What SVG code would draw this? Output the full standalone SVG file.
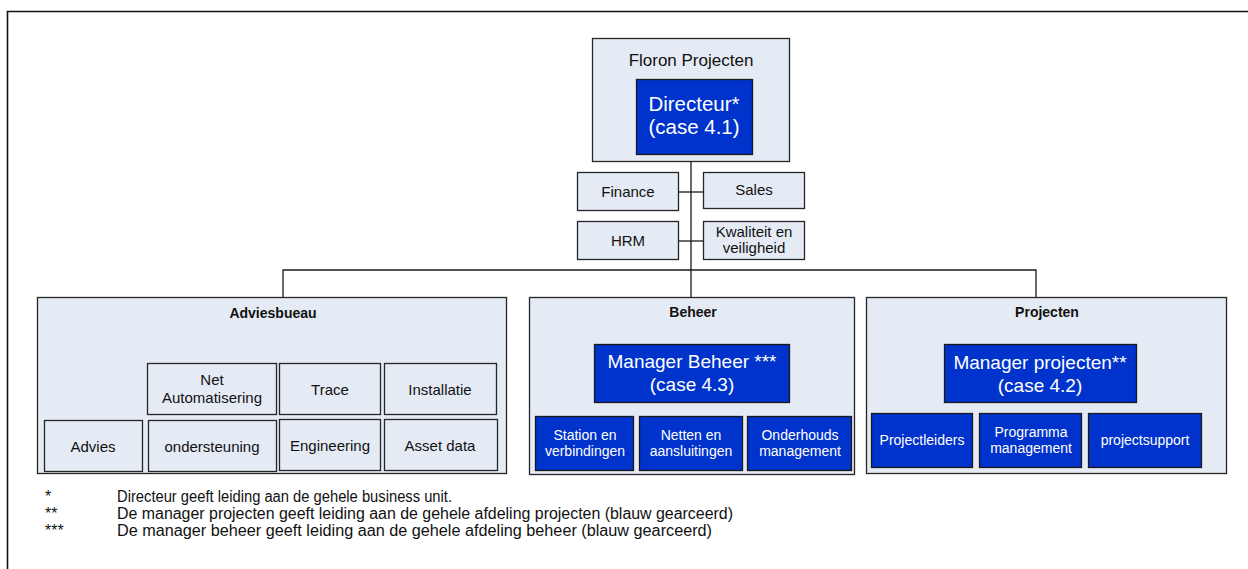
<svg xmlns="http://www.w3.org/2000/svg" width="1248" height="569" viewBox="0 0 1248 569">
<style>
text{font-family:"Liberation Sans",Arial,sans-serif;text-anchor:middle}
.lt{fill:#E5EBF5;stroke:#262626;stroke-width:1.3}
.bl{fill:#0033CC;stroke:#1a1a1a;stroke-width:1.3}
.k{fill:#111}
.w{fill:#fff}
.t15{font-size:15px}
.t14{font-size:14px}
.h{font-size:14px;font-weight:bold}
.big{font-size:19px}
.con{fill:none;stroke:#1a1a1a;stroke-width:1.3}
.fn{font-size:16px;text-anchor:start;fill:#111}
</style>
<rect width="1248" height="569" fill="#fff"/>
<path d="M7.5,569 V11.5 H1248" fill="none" stroke="#111" stroke-width="1.6"/>

<g id="connectors">
<path class="con" d="M691,161 V270"/>
<path class="con" d="M679,192 H703"/>
<path class="con" d="M679,241 H703"/>
<path class="con" d="M283,297 V270 H1036 V297"/>
<path class="con" d="M691,270 V297"/>
</g>

<g id="floron">
<rect class="lt" x="592.5" y="38.5" width="197" height="123"/>
<text class="k" x="691" y="66" style="font-size:17px">Floron Projecten</text>
</g>
<g id="directeur">
<rect class="bl" x="636.5" y="79.5" width="116" height="75"/>
<text class="w" x="694" y="111" style="font-size:20.5px">Directeur*</text>
<text class="w" x="694" y="134" style="font-size:20.5px">(case 4.1)</text>
</g>
<g id="finance">
<rect class="lt" x="577.5" y="172.5" width="101" height="38"/>
<text class="k t15" x="628" y="197">Finance</text>
</g>
<g id="sales">
<rect class="lt" x="703.5" y="172.5" width="101" height="36"/>
<text class="k t15" x="754" y="195">Sales</text>
</g>
<g id="hrm">
<rect class="lt" x="577.5" y="221.5" width="101" height="38"/>
<text class="k t15" x="628" y="246">HRM</text>
</g>
<g id="kwaliteit">
<rect class="lt" x="703.5" y="221.5" width="101" height="38"/>
<text class="k t15" x="754" y="237">Kwaliteit en</text>
<text class="k t15" x="754" y="253">veiligheid</text>
</g>

<g id="adviesbueau">
<rect class="lt" x="37.5" y="297.5" width="469" height="176"/>
<text class="k h" x="273" y="318">Adviesbueau</text>
</g>
<g id="netautomatisering">
<rect class="lt" x="147.5" y="363.5" width="129" height="51"/>
<text class="k t15" x="212" y="385">Net</text>
<text class="k t15" x="212" y="403">Automatisering</text>
</g>
<g id="trace">
<rect class="lt" x="279.5" y="363.5" width="101" height="51"/>
<text class="k t15" x="330" y="395">Trace</text>
</g>
<g id="installatie">
<rect class="lt" x="384.5" y="363.5" width="112" height="51"/>
<text class="k t15" x="440" y="395">Installatie</text>
</g>
<g id="advies">
<rect class="lt" x="44.5" y="420.5" width="98" height="51"/>
<text class="k t15" x="93" y="452">Advies</text>
</g>
<g id="ondersteuning">
<rect class="lt" x="148.5" y="420.5" width="128" height="51"/>
<text class="k t15" x="212" y="452">ondersteuning</text>
</g>
<g id="engineering">
<rect class="lt" x="279.5" y="419.5" width="101" height="51"/>
<text class="k t15" x="330" y="451">Engineering</text>
</g>
<g id="assetdata">
<rect class="lt" x="384.5" y="419.5" width="113" height="51"/>
<text class="k t15" x="440" y="451">Asset data</text>
</g>

<g id="beheer">
<rect class="lt" x="529.5" y="297.5" width="325" height="177"/>
<text class="k h" x="693" y="317">Beheer</text>
</g>
<g id="managerbeheer">
<rect class="bl" x="594.5" y="344.5" width="195" height="58"/>
<text class="w big" x="692" y="368">Manager Beheer ***</text>
<text class="w big" x="692" y="391">(case 4.3)</text>
</g>
<g id="station">
<rect class="bl" x="535.5" y="416.5" width="98" height="54"/>
<text class="w t14" x="585" y="440">Station en</text>
<text class="w t14" x="585" y="456">verbindingen</text>
</g>
<g id="netten">
<rect class="bl" x="639.5" y="416.5" width="103" height="54"/>
<text class="w t14" x="691" y="440">Netten en</text>
<text class="w t14" x="691" y="456">aansluitingen</text>
</g>
<g id="onderhouds">
<rect class="bl" x="747.5" y="416.5" width="104" height="54"/>
<text class="w t14" x="800" y="440">Onderhouds</text>
<text class="w t14" x="800" y="456">management</text>
</g>

<g id="projecten">
<rect class="lt" x="866.5" y="297.5" width="360" height="176"/>
<text class="k h" x="1047" y="317">Projecten</text>
</g>
<g id="managerprojecten">
<rect class="bl" x="944.5" y="344.5" width="192" height="58"/>
<text class="w big" x="1040" y="369">Manager projecten**</text>
<text class="w big" x="1040" y="392">(case 4.2)</text>
</g>
<g id="projectleiders">
<rect class="bl" x="871.5" y="413.5" width="101" height="54"/>
<text class="w t14" x="922" y="445">Projectleiders</text>
</g>
<g id="programma">
<rect class="bl" x="979.5" y="413.5" width="102" height="54"/>
<text class="w t14" x="1031" y="437">Programma</text>
<text class="w t14" x="1031" y="453">management</text>
</g>
<g id="projectsupport">
<rect class="bl" x="1088.5" y="413.5" width="113" height="54"/>
<text class="w t14" x="1145" y="445">projectsupport</text>
</g>

<g id="footnotes">
<text class="fn" x="45" y="502">*</text>
<text class="fn" x="117" y="502" textLength="335" lengthAdjust="spacingAndGlyphs">Directeur geeft leiding aan de gehele business unit.</text>
<text class="fn" x="45" y="519">**</text>
<text class="fn" x="117" y="519" textLength="616" lengthAdjust="spacingAndGlyphs">De manager projecten geeft leiding aan de gehele afdeling projecten (blauw gearceerd)</text>
<text class="fn" x="45" y="536">***</text>
<text class="fn" x="117" y="536" textLength="595" lengthAdjust="spacingAndGlyphs">De manager beheer geeft leiding aan de gehele afdeling beheer (blauw gearceerd)</text>
</g>
</svg>
